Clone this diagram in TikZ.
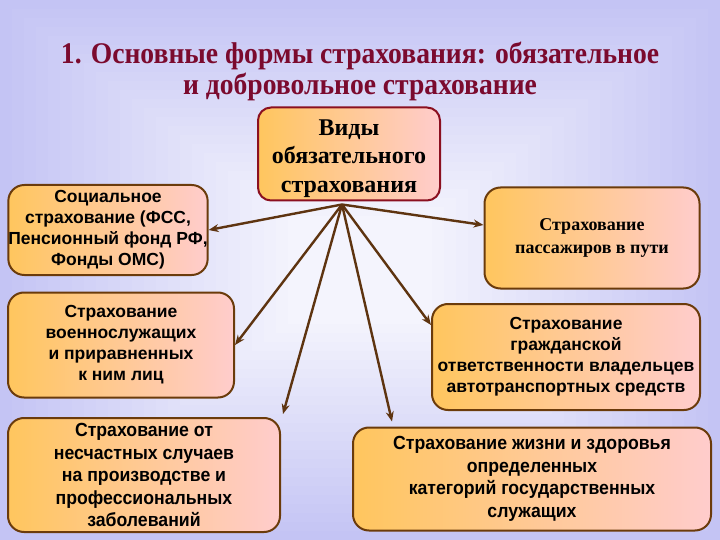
\documentclass[tikz,border=0pt]{standalone}
\usepackage{fontspec}
\setmainfont{Liberation Serif}
\setsansfont{Liberation Sans}
\newfontfamily\narrowfont[FakeStretch=0.93]{Liberation Sans}
\newfontfamily\titlefont[FakeStretch=0.92]{Liberation Serif}
\usetikzlibrary{arrows.meta}
\definecolor{titlered}{HTML}{7B0A2E}
\definecolor{boxline}{HTML}{6B3B0B}
\definecolor{vidline}{HTML}{8B1020}
\definecolor{arrowc}{HTML}{5E3410}
\definecolor{boxL}{HTML}{FFC65E}
\definecolor{boxR}{HTML}{FFCCCC}
\definecolor{bgOut}{HTML}{C4C4F4}
\definecolor{bgIn}{HTML}{F6F6FD}
\tikzset{
	kindbox/.style={draw=boxline, line width=2pt, rounded corners=16pt, left color=boxL, right color=boxR, align=center, inner sep=0pt},
	sansbox/.style={kindbox, font=\sffamily\bfseries\fontsize{17.5}{21}\selectfont},
	narrowbox/.style={kindbox, font=\narrowfont\bfseries\fontsize{19}{22.5}\selectfont},
	heading/.style={font=\titlefont\bfseries\fontsize{30}{31}\selectfont, align=center},
	link/.style={draw=arrowc, line width=2.4pt, -{Stealth[length=10pt,width=8pt]}}
}
\begin{document}
\begin{tikzpicture}[x=1pt, y=-1pt]
	\useasboundingbox (0,0) rectangle (720,540);
	% background
	\foreach \i in {0,...,24} {
		\pgfmathtruncatemacro{\p}{100-\i*4}
		\fill[bgOut!\p!bgIn] (\i*12,\i*9) rectangle (720-\i*12,540-\i*9);
	}
	\node[heading, text=titlered] (title) at (360,71)
		{1. Основные формы страхования: обязательное\\и добровольное страхование};

	\node[kindbox, draw=vidline, rounded corners=13pt, minimum width=182, minimum height=93, font=\bfseries\fontsize{24}{28.5}\selectfont] (vid) at (349,154)
		{\rule{0pt}{25pt}Виды\\обязательного\\страхования};
	\node[sansbox, minimum width=199, minimum height=90] (soc) at (108,230)
		{Социальное\\страхование (ФСС,\\Пенсионный фонд РФ,\\Фонды ОМС)};
	\node[kindbox, minimum width=215, minimum height=101, font=\bfseries\fontsize{18}{23}\selectfont] (pass) at (592,238)
		{Страхование\\пассажиров в пути};
	\node[sansbox, minimum width=226, minimum height=105] (mil) at (121,345)
		{Страхование\\военнослужащих\\и приравненных\\к ним лиц};
	\node[sansbox, minimum width=268, minimum height=106] (civ) at (566,357)
		{Страхование\\гражданской\\ответственности владельцев\\автотранспортных средств};
	\node[narrowbox, minimum width=272, minimum height=114] (acc) at (144,475)
		{Страхование от\\несчастных случаев\\на производстве и\\профессиональных\\заболеваний};
	\node[narrowbox, minimum width=358, minimum height=103] (life) at (532,479)
		{Страхование жизни и здоровья\\определенных\\категорий государственных\\служащих};

	\coordinate (hub) at ([xshift=-7pt, yshift=-3pt]vid.south);
	\draw[link] (hub) -- (soc.east);
	\draw[link] (hub) -- ([yshift=13pt]pass.west);
	\draw[link] (hub) -- (mil.east);
	\draw[link] (hub) -- ([yshift=32pt]civ.west);
	\draw[link] (hub) -- ([xshift=2pt, yshift=3pt]acc.north east);
	\draw[link] (hub) -- ([xshift=-140pt, yshift=5pt]life.north);
\end{tikzpicture}
\end{document}
